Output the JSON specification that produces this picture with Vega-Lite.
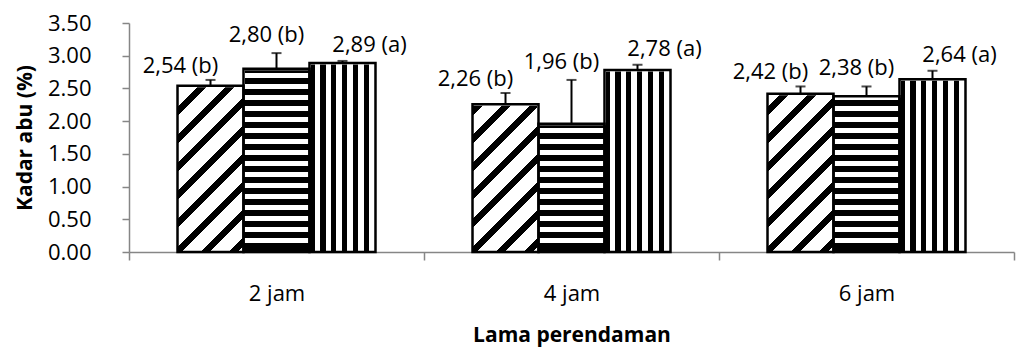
{
  "$schema": "https://vega.github.io/schema/vega-lite/v6.json",
  "width": 885,
  "height": 229,
  "autosize": "none",
  "padding": {"left": 129, "top": 23, "right": 2, "bottom": 95},
  "background": "white",
  "config": {
    "view": {"stroke": null},
    "font": "Open Sans",
    "axisY": {
      "grid": false, "labelOverlap": false, "tickCount": 8, "format": ".2f",
      "labelFontSize": 22, "labelColor": "black", "labelPadding": 31,
      "domainColor": "#868686", "domainWidth": 1.5, "tickColor": "#868686", "tickWidth": 1.5, "tickSize": 7,
      "titleFontSize": 21, "titleFontWeight": "bold", "titleColor": "black", "titlePadding": 12
    },
    "axisX": {
      "grid": false, "labelAngle": 0, "labelFontSize": 22, "labelColor": "black", "labelPadding": 23,
      "domainColor": "#868686", "domainWidth": 1.5, "tickColor": "#868686", "tickWidth": 1.5, "tickSize": 8, "tickBand": "extent",
      "titleFontSize": 21, "titleFontWeight": "bold", "titleColor": "black", "titlePadding": 20
    }
  },
  "data": {"values": [
    {"jam": "2 jam", "series": "A", "value": 2.54, "upper": 2.63, "label": "2,54 (b)"},
    {"jam": "2 jam", "series": "B", "value": 2.80, "upper": 3.04, "label": "2,80 (b)"},
    {"jam": "2 jam", "series": "C", "value": 2.89, "upper": 2.92, "label": "2,89 (a)"},
    {"jam": "4 jam", "series": "A", "value": 2.26, "upper": 2.43, "label": "2,26 (b)"},
    {"jam": "4 jam", "series": "B", "value": 1.96, "upper": 2.63, "label": "1,96 (b)"},
    {"jam": "4 jam", "series": "C", "value": 2.78, "upper": 2.86, "label": "2,78 (a)"},
    {"jam": "6 jam", "series": "A", "value": 2.42, "upper": 2.53, "label": "2,42 (b)"},
    {"jam": "6 jam", "series": "B", "value": 2.38, "upper": 2.53, "label": "2,38 (b)"},
    {"jam": "6 jam", "series": "C", "value": 2.64, "upper": 2.77, "label": "2,64 (a)"}
  ]},
  "encoding": {
    "x": {
      "field": "jam", "type": "nominal",
      "scale": {"paddingInner": 0, "paddingOuter": 0},
      "axis": {"title": "Lama perendaman", "grid": false}
    },
    "xOffset": {"field": "series", "type": "nominal", "scale": {"domain": ["A", "B", "C"], "paddingInner": 0, "paddingOuter": 0.735}},
    "y": {"field": "value", "type": "quantitative", "scale": {"domain": [0, 3.5], "nice": false},
      "axis": {"title": "Kadar abu (%)", "values": [0, 0.5, 1, 1.5, 2, 2.5, 3, 3.5], "tickCount": 8, "labelOverlap": false}}
  },
  "layer": [
    {
      "transform": [{"filter": "datum.series === 'A'"}],
      "mark": {"type": "bar", "fill": {"gradient": "linear", "x1": 0, "y1": 0, "x2": 1, "y2": 3.4697, "stops": [
        {"offset": 0, "color": "black"}, {"offset": 0.0105, "color": "black"}, {"offset": 0.0105, "color": "white"}, {"offset": 0.0325, "color": "white"},
        {"offset": 0.0325, "color": "black"}, {"offset": 0.0430, "color": "black"}, {"offset": 0.0430, "color": "white"}, {"offset": 0.0651, "color": "white"},
        {"offset": 0.0651, "color": "black"}, {"offset": 0.0756, "color": "black"}, {"offset": 0.0756, "color": "white"}, {"offset": 0.0976, "color": "white"},
        {"offset": 0.0976, "color": "black"}, {"offset": 0.1081, "color": "black"}, {"offset": 0.1081, "color": "white"}, {"offset": 0.1301, "color": "white"},
        {"offset": 0.1301, "color": "black"}, {"offset": 0.1406, "color": "black"}, {"offset": 0.1406, "color": "white"}, {"offset": 0.1627, "color": "white"},
        {"offset": 0.1627, "color": "black"}, {"offset": 0.1732, "color": "black"}, {"offset": 0.1732, "color": "white"}, {"offset": 0.1952, "color": "white"},
        {"offset": 0.1952, "color": "black"}, {"offset": 0.2057, "color": "black"}, {"offset": 0.2057, "color": "white"}, {"offset": 0.2277, "color": "white"},
        {"offset": 0.2277, "color": "black"}, {"offset": 0.2382, "color": "black"}, {"offset": 0.2382, "color": "white"}, {"offset": 0.2602, "color": "white"},
        {"offset": 0.2602, "color": "black"}, {"offset": 0.2707, "color": "black"}, {"offset": 0.2707, "color": "white"}, {"offset": 0.2928, "color": "white"},
        {"offset": 0.2928, "color": "black"}, {"offset": 0.3033, "color": "black"}, {"offset": 0.3033, "color": "white"}, {"offset": 0.3253, "color": "white"},
        {"offset": 0.3253, "color": "black"}, {"offset": 0.3358, "color": "black"}, {"offset": 0.3358, "color": "white"}, {"offset": 1, "color": "white"}
      ]}},
      "encoding": {"y": {"datum": 0, "type": "quantitative", "axis": {"title": "Kadar abu (%)", "values": [0, 0.5, 1, 1.5, 2, 2.5, 3, 3.5], "tickCount": 8, "labelOverlap": false}}, "y2": {"datum": 3.5}}
    },
    {
      "transform": [{"filter": "datum.series === 'B'"}],
      "mark": {"type": "bar", "fill": {"gradient": "linear", "x1": 0, "y1": 0, "x2": 0, "y2": 1, "stops": [
        {"offset": 0, "color": "black"}, {"offset": 0.0275, "color": "black"}, {"offset": 0.0275, "color": "white"}, {"offset": 0.048, "color": "white"},
        {"offset": 0.048, "color": "black"}, {"offset": 0.0755, "color": "black"}, {"offset": 0.0755, "color": "white"}, {"offset": 0.096, "color": "white"},
        {"offset": 0.096, "color": "black"}, {"offset": 0.1235, "color": "black"}, {"offset": 0.1235, "color": "white"}, {"offset": 0.144, "color": "white"},
        {"offset": 0.144, "color": "black"}, {"offset": 0.1715, "color": "black"}, {"offset": 0.1715, "color": "white"}, {"offset": 0.192, "color": "white"},
        {"offset": 0.192, "color": "black"}, {"offset": 0.2195, "color": "black"}, {"offset": 0.2195, "color": "white"}, {"offset": 0.24, "color": "white"},
        {"offset": 0.24, "color": "black"}, {"offset": 0.2675, "color": "black"}, {"offset": 0.2675, "color": "white"}, {"offset": 0.288, "color": "white"},
        {"offset": 0.288, "color": "black"}, {"offset": 0.3155, "color": "black"}, {"offset": 0.3155, "color": "white"}, {"offset": 0.336, "color": "white"},
        {"offset": 0.336, "color": "black"}, {"offset": 0.3635, "color": "black"}, {"offset": 0.3635, "color": "white"}, {"offset": 0.384, "color": "white"},
        {"offset": 0.384, "color": "black"}, {"offset": 0.4115, "color": "black"}, {"offset": 0.4115, "color": "white"}, {"offset": 0.432, "color": "white"},
        {"offset": 0.432, "color": "black"}, {"offset": 0.4595, "color": "black"}, {"offset": 0.4595, "color": "white"}, {"offset": 0.48, "color": "white"},
        {"offset": 0.48, "color": "black"}, {"offset": 0.5075, "color": "black"}, {"offset": 0.5075, "color": "white"}, {"offset": 0.528, "color": "white"},
        {"offset": 0.528, "color": "black"}, {"offset": 0.5555, "color": "black"}, {"offset": 0.5555, "color": "white"}, {"offset": 0.576, "color": "white"},
        {"offset": 0.576, "color": "black"}, {"offset": 0.6035, "color": "black"}, {"offset": 0.6035, "color": "white"}, {"offset": 0.624, "color": "white"},
        {"offset": 0.624, "color": "black"}, {"offset": 0.6515, "color": "black"}, {"offset": 0.6515, "color": "white"}, {"offset": 0.672, "color": "white"},
        {"offset": 0.672, "color": "black"}, {"offset": 0.6995, "color": "black"}, {"offset": 0.6995, "color": "white"}, {"offset": 0.72, "color": "white"},
        {"offset": 0.72, "color": "black"}, {"offset": 0.7475, "color": "black"}, {"offset": 0.7475, "color": "white"}, {"offset": 0.768, "color": "white"},
        {"offset": 0.768, "color": "black"}, {"offset": 0.7955, "color": "black"}, {"offset": 0.7955, "color": "white"}, {"offset": 0.816, "color": "white"},
        {"offset": 0.816, "color": "black"}, {"offset": 0.8435, "color": "black"}, {"offset": 0.8435, "color": "white"}, {"offset": 0.864, "color": "white"},
        {"offset": 0.864, "color": "black"}, {"offset": 0.8915, "color": "black"}, {"offset": 0.8915, "color": "white"}, {"offset": 0.912, "color": "white"},
        {"offset": 0.912, "color": "black"}, {"offset": 0.9395, "color": "black"}, {"offset": 0.9395, "color": "white"}, {"offset": 0.96, "color": "white"},
        {"offset": 0.96, "color": "black"}, {"offset": 1, "color": "black"}
      ]}},
      "encoding": {"y": {"datum": 0, "type": "quantitative", "axis": {"title": "Kadar abu (%)", "values": [0, 0.5, 1, 1.5, 2, 2.5, 3, 3.5], "tickCount": 8, "labelOverlap": false}}, "y2": {"datum": 3.5}}
    },
    {
      "transform": [{"filter": "datum.series === 'C'"}],
      "mark": {"type": "bar", "fill": {"gradient": "linear", "x1": 0, "y1": 0, "x2": 1, "y2": 0, "stops": [
        {"offset": 0, "color": "black"}, {"offset": 0.0758, "color": "black"}, {"offset": 0.0758, "color": "white"}, {"offset": 0.1667, "color": "white"},
        {"offset": 0.1667, "color": "black"}, {"offset": 0.2425, "color": "black"}, {"offset": 0.2425, "color": "white"}, {"offset": 0.3333, "color": "white"},
        {"offset": 0.3333, "color": "black"}, {"offset": 0.4091, "color": "black"}, {"offset": 0.4091, "color": "white"}, {"offset": 0.5, "color": "white"},
        {"offset": 0.5, "color": "black"}, {"offset": 0.5758, "color": "black"}, {"offset": 0.5758, "color": "white"}, {"offset": 0.6667, "color": "white"},
        {"offset": 0.6667, "color": "black"}, {"offset": 0.7425, "color": "black"}, {"offset": 0.7425, "color": "white"}, {"offset": 0.8333, "color": "white"},
        {"offset": 0.8333, "color": "black"}, {"offset": 0.9091, "color": "black"}, {"offset": 0.9091, "color": "white"}, {"offset": 1, "color": "white"}
      ]}},
      "encoding": {"y": {"datum": 0, "type": "quantitative", "axis": {"title": "Kadar abu (%)", "values": [0, 0.5, 1, 1.5, 2, 2.5, 3, 3.5], "tickCount": 8, "labelOverlap": false}}, "y2": {"datum": 3.5}}
    },
    {
      "mark": {"type": "bar", "fill": "white", "stroke": "white", "strokeWidth": 3},
      "encoding": {"y2": {"datum": 3.5}}
    },
    {
      "mark": {"type": "bar", "fill": "white", "fillOpacity": 0, "stroke": "black", "strokeWidth": 2.5},
      "encoding": {"y2": {"datum": 0}}
    },
    {
      "mark": {"type": "rule", "color": "black", "strokeWidth": 2},
      "encoding": {"y2": {"field": "upper"}}
    },
    {
      "mark": {"type": "tick", "color": "black", "size": 10, "thickness": 2, "orient": "horizontal"},
      "encoding": {"y": {"field": "upper", "type": "quantitative", "axis": {"title": "Kadar abu (%)", "values": [0, 0.5, 1, 1.5, 2, 2.5, 3, 3.5], "tickCount": 8, "labelOverlap": false}}}
    },
    {
      "transform": [{"filter": "datum.series === 'A'"}],
      "mark": {"type": "text", "fontSize": 22, "color": "black", "baseline": "bottom", "dx": -30, "dy": -2},
      "encoding": {"y": {"field": "upper", "type": "quantitative", "axis": {"title": "Kadar abu (%)", "values": [0, 0.5, 1, 1.5, 2, 2.5, 3, 3.5], "tickCount": 8, "labelOverlap": false}}, "text": {"field": "label"}}
    },
    {
      "transform": [{"filter": "datum.series === 'B'"}],
      "mark": {"type": "text", "fontSize": 22, "color": "black", "baseline": "bottom", "dx": -10, "dy": -6},
      "encoding": {"y": {"field": "upper", "type": "quantitative", "axis": {"title": "Kadar abu (%)", "values": [0, 0.5, 1, 1.5, 2, 2.5, 3, 3.5], "tickCount": 8, "labelOverlap": false}}, "text": {"field": "label"}}
    },
    {
      "transform": [{"filter": "datum.series === 'C'"}],
      "mark": {"type": "text", "fontSize": 22, "color": "black", "baseline": "bottom", "dx": 27, "dy": -4},
      "encoding": {"y": {"field": "upper", "type": "quantitative", "axis": {"title": "Kadar abu (%)", "values": [0, 0.5, 1, 1.5, 2, 2.5, 3, 3.5], "tickCount": 8, "labelOverlap": false}}, "text": {"field": "label"}}
    }
  ]
}
